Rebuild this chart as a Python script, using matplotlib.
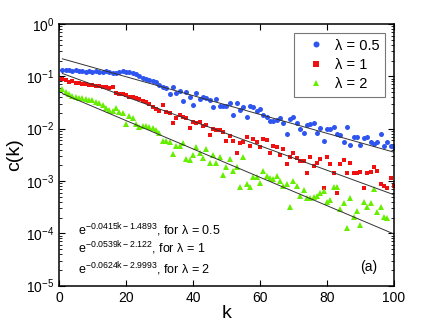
import numpy as np
import matplotlib
matplotlib.use("Agg")
import matplotlib.pyplot as plt
from matplotlib.ticker import LogLocator, NullFormatter, MultipleLocator

plt.rcParams['font.family'] = ['Liberation Sans', 'DejaVu Sans']
plt.rcParams['mathtext.fontset'] = 'custom'
plt.rcParams['mathtext.rm'] = 'Liberation Sans'
plt.rcParams['mathtext.it'] = 'Liberation Sans:italic'

k = np.arange(1, 101)

# log10 c(k)
log_c_05 = [-0.88, -0.88, -0.88, -0.90, -0.88, -0.90, -0.90, -0.92, -0.90, -0.92,
            -0.90, -0.92, -0.92, -0.90, -0.92, -0.94, -0.94, -0.92, -0.90, -0.92,
            -0.92, -0.94, -0.96, -0.99, -1.03, -1.05, -1.07, -1.09, -1.11, -1.17,
            -1.20, -1.22, -1.34, -1.20, -1.32, -1.28, -1.47, -1.30, -1.40, -1.55,
            -1.32, -1.43, -1.40, -1.42, -1.45, -1.59, -1.43, -1.57, -1.57, -1.57,
            -1.51, -1.74, -1.51, -1.64, -1.59, -1.78, -1.57, -1.59, -1.66, -1.63,
            -1.74, -1.78, -1.85, -1.85, -1.84, -1.80, -1.89, -2.10, -1.82, -1.78,
            -1.89, -2.01, -2.08, -1.93, -1.91, -1.89, -2.08, -1.99, -2.24, -2.01,
            -2.01, -1.97, -2.10, -2.12, -2.26, -1.97, -2.31, -2.16, -2.16, -2.31,
            -2.18, -2.16, -2.26, -2.29, -2.26, -2.10, -2.33, -2.26, -2.33, -2.35]

log_c_1 = [-1.05, -1.07, -1.11, -1.09, -1.13, -1.13, -1.15, -1.15, -1.17, -1.17,
           -1.19, -1.19, -1.20, -1.20, -1.22, -1.20, -1.32, -1.34, -1.34, -1.36,
           -1.40, -1.40, -1.41, -1.43, -1.47, -1.49, -1.53, -1.59, -1.63, -1.66,
           -1.55, -1.68, -1.70, -1.89, -1.80, -1.74, -1.78, -1.80, -1.99, -1.87,
           -1.89, -1.87, -1.95, -1.93, -2.12, -2.01, -2.03, -2.03, -2.07, -2.24,
           -2.14, -2.24, -2.47, -2.28, -2.26, -2.16, -2.33, -2.20, -2.26, -2.35,
           -2.20, -2.22, -2.47, -2.33, -2.35, -2.50, -2.39, -2.68, -2.54, -2.47,
           -2.56, -2.62, -2.62, -2.85, -2.54, -2.72, -2.66, -2.58, -3.14, -2.54,
           -2.68, -2.85, -3.23, -2.68, -2.60, -2.85, -2.66, -2.85, -2.85, -2.83,
           -3.14, -2.85, -2.83, -2.73, -2.81, -3.06, -3.10, -3.14, -2.94, -3.10]

log_c_2 = [-1.24, -1.30, -1.34, -1.38, -1.40, -1.41, -1.41, -1.43, -1.45, -1.45,
           -1.49, -1.51, -1.55, -1.61, -1.64, -1.66, -1.61, -1.68, -1.70, -1.91,
           -1.76, -1.80, -1.91, -1.97, -1.95, -1.95, -1.97, -1.99, -2.03, -2.08,
           -2.24, -2.24, -2.26, -2.49, -2.33, -2.33, -2.28, -2.58, -2.60, -2.50,
           -2.35, -2.47, -2.56, -2.39, -2.66, -2.50, -2.66, -2.54, -2.89, -2.73,
           -2.58, -2.81, -2.73, -3.12, -2.54, -3.06, -3.12, -2.93, -2.93, -3.04,
           -2.81, -2.91, -2.94, -2.96, -2.91, -3.00, -3.10, -3.06, -3.50, -3.00,
           -3.10, -3.29, -3.17, -3.33, -3.33, -3.31, -3.29, -3.23, -3.19, -3.40,
           -3.37, -3.12, -3.12, -3.54, -3.42, -3.90, -3.33, -3.69, -3.58, -3.84,
           -3.40, -3.50, -3.42, -3.15, -3.59, -3.50, -3.69, -3.71, np.nan, np.nan]

fit_slopes = [-0.0415, -0.0539, -0.0624]
fit_offsets = [-1.4893, -2.122, -2.9993]
labels = ['λ = 0.5', 'λ = 1', 'λ = 2']
fit_texts = [r'$\mathregular{e^{-0.0415k-1.4893}}$, for λ = 0.5',
             r'$\mathregular{e^{-0.0539k-2.122}}$, for λ = 1',
             r'$\mathregular{e^{-0.0624k-2.9993}}$, for λ = 2']

fig = plt.figure(figsize=(4.35, 3.27), dpi=100)
ax = fig.add_axes([0.1356, 0.1263, 0.7701, 0.8003])

c05 = np.power(10.0, np.array(log_c_05, dtype=float))
c1 = np.power(10.0, np.array(log_c_1, dtype=float))
c2 = np.power(10.0, np.array(log_c_2, dtype=float))

ax.plot(k, c05, 'o', color='#2f55f0', markersize=3.6, markeredgewidth=0, label=labels[0])
ax.plot(k, c1, 's', color='#f01010', markersize=3.3, markeredgewidth=0, label=labels[1])
ax.plot(k, c2, '^', color='#66ee00', markersize=4.0, markeredgewidth=0, label=labels[2])

for a, b in zip(fit_slopes, fit_offsets):
    ax.plot(k, np.exp(a * k + b), '-', color='#333333', linewidth=0.7)

ax.set_yscale('log')
ax.set_xlim(0, 100)
ax.set_ylim(1e-5, 1e0)
ax.xaxis.set_major_locator(MultipleLocator(20))
ax.yaxis.set_major_locator(LogLocator(base=10, numticks=10))
ax.yaxis.set_minor_locator(LogLocator(base=10, subs=np.arange(2, 10), numticks=10))
ax.yaxis.set_minor_formatter(NullFormatter())
ax.tick_params(which='both', direction='in', top=True, right=True, labelsize=10)
ax.tick_params(which='major', length=4, width=0.8)
ax.tick_params(which='minor', length=2, width=0.6)
for s in ax.spines.values():
    s.set_linewidth(1.1)

ax.set_xlabel('k', fontsize=14, labelpad=0)
ax.set_ylabel('c(k)', fontsize=14, labelpad=2)

leg = ax.legend(loc='upper right', fontsize=10.5, frameon=True, fancybox=False,
                edgecolor='#555555', borderaxespad=0.6, borderpad=0.4,
                handletextpad=0.2, handlelength=2.2, markerscale=1.2,
                labelspacing=0.35)
leg.get_frame().set_linewidth(0.8)

ys = [0.194, 0.125, 0.045]
for t, yy in zip(fit_texts, ys):
    ax.text(0.058, yy, t, transform=ax.transAxes, fontsize=9, va='baseline', ha='left')
ax.text(0.95, 0.07, '(a)', transform=ax.transAxes, fontsize=10, ha='right', va='center')

fig.savefig('out.png', dpi=100)
